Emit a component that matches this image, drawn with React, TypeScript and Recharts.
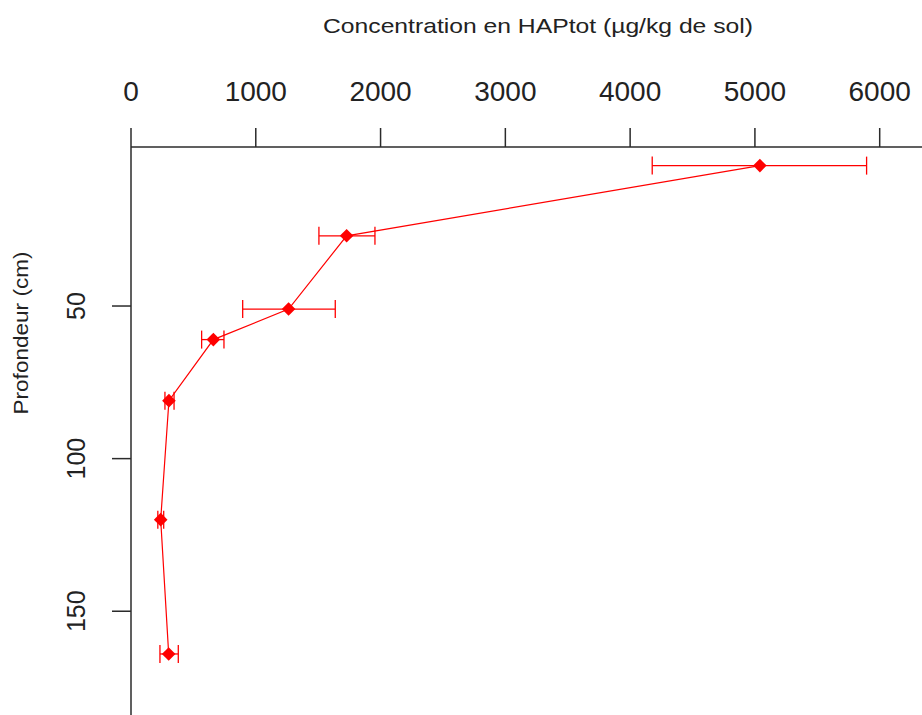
import { ScatterChart, Scatter, XAxis, YAxis, ErrorBar } from "recharts";

// profondeur (cm) et concentration moyenne
const depth = [4, 27, 51, 61, 81, 120, 164];
const conc = [5040, 1728, 1263, 660, 304, 238, 302];
// bornes des barres d'erreur
const low = [4177, 1506, 895, 566, 272, 215, 232];
const high = [5895, 1955, 1637, 745, 345, 262, 379];

const xTicks = [0, 1000, 2000, 3000, 4000, 5000, 6000];
const yTicks = [50, 100, 150];

const data = depth.map((d, i) => ({
  depth: d,
  conc: conc[i],
  err: [conc[i] - low[i], high[i] - conc[i]],
}));

const RED = "#ff0000";
const AXIS = "#2b2b2b";
const FONT = "'Liberation Sans', Arial, sans-serif";

// losange plein (pch 18)
// eslint-disable-next-line @typescript-eslint/no-explicit-any
const Diamond = ({ cx, cy }: any) => {
  const r = 6.8;
  return (
    <polygon
      points={`${cx},${cy - r} ${cx + r},${cy} ${cx},${cy + r} ${cx - r},${cy}`}
      fill={RED}
    />
  );
};

// eslint-disable-next-line @typescript-eslint/no-explicit-any
const TopTick = ({ x, y, payload }: any) => (
  <text
    x={x}
    y={y - 27}
    textAnchor="middle"
    fontSize={28}
    fontFamily={FONT}
    fill="#222"
  >
    {payload.value}
  </text>
);

// eslint-disable-next-line @typescript-eslint/no-explicit-any
const LeftTick = ({ x, y, payload }: any) => {
  const bx = x - 27;
  return (
    <text
      x={bx}
      y={y}
      transform={`rotate(-90, ${bx}, ${y})`}
      textAnchor="middle"
      fontSize={25}
      fontFamily={FONT}
      fill="#222"
    >
      {payload.value}
    </text>
  );
};

const XTitle = () => (
  <text
    x={538}
    y={33}
    textAnchor="middle"
    fontSize={21}
    fontFamily={FONT}
    fill="#222"
    textLength={430}
    lengthAdjust="spacingAndGlyphs"
  >
    Concentration en HAPtot (µg/kg de sol)
  </text>
);

const YTitle = () => (
  <text
    x={28}
    y={333}
    transform="rotate(-90, 28, 333)"
    textAnchor="middle"
    fontSize={21}
    fontFamily={FONT}
    fill="#222"
    textLength={163}
    lengthAdjust="spacingAndGlyphs"
  >
    Profondeur (cm)
  </text>
);

export default function App() {
  return (
    <div style={{ width: 922, height: 715, background: "#fff" }}>
      <style>{`body { margin: 0; }`}</style>
      <ScatterChart
        width={922}
        height={715}
        margin={{ top: 0, right: 0, bottom: 0, left: 0 }}
      >
        <XAxis
          type="number"
          dataKey="conc"
          orientation="top"
          domain={[0, 6339]}
          ticks={xTicks}
          height={147}
          tickSize={19}
          tickMargin={0}
          axisLine={{ stroke: AXIS, strokeWidth: 1.5 }}
          tickLine={{ stroke: AXIS, strokeWidth: 1.5 }}
          tick={<TopTick />}
          label={<XTitle />}
          allowDataOverflow
        />
        <YAxis
          type="number"
          dataKey="depth"
          reversed
          domain={[-2.1, 184]}
          ticks={yTicks}
          width={131}
          tickSize={19}
          tickMargin={0}
          axisLine={{ stroke: AXIS, strokeWidth: 1.5 }}
          tickLine={{ stroke: AXIS, strokeWidth: 1.5 }}
          tick={<LeftTick />}
          label={<YTitle />}
          allowDataOverflow
        />
        <Scatter
          data={data}
          shape={<Diamond />}
          line={{ stroke: RED, strokeWidth: 1.2 }}
          isAnimationActive={false}
        >
          <ErrorBar
            dataKey="err"
            direction="x"
            stroke={RED}
            strokeWidth={1.3}
            width={9}
            isAnimationActive={false}
          />
        </Scatter>
      </ScatterChart>
    </div>
  );
}
